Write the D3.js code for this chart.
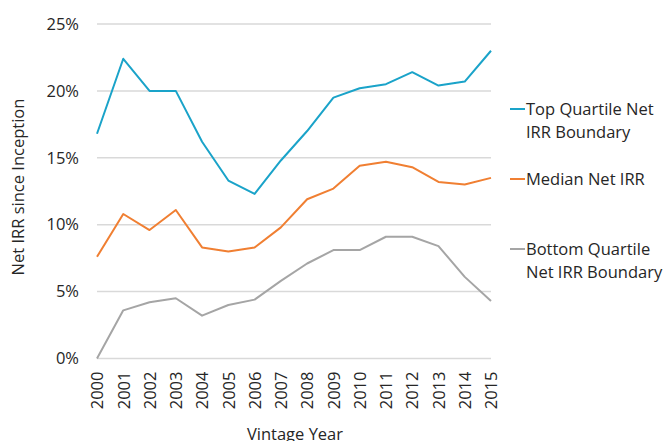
<!DOCTYPE html>
<html>
<head>
<meta charset="utf-8">
<script src="https://cdn.jsdelivr.net/npm/d3@7"></script>
<style>
body { margin: 0; background: #fff; }
text { font-family: "Open Sans", sans-serif; fill: #262626; }
</style>
</head>
<body>
<svg id="chart" width="670" height="441"></svg>
<script>
// vintage years and the three series (net IRR, %)
const years = ["2000","2001","2002","2003","2004","2005","2006","2007","2008","2009","2010","2011","2012","2013","2014","2015"];
const topQuartile = [16.8, 22.4, 20.0, 20.0, 16.2, 13.3, 12.3, 14.8, 17.0, 19.5, 20.2, 20.5, 21.4, 20.4, 20.7, 23.0];
const median = [7.6, 10.8, 9.6, 11.1, 8.3, 8.0, 8.3, 9.8, 11.9, 12.7, 14.4, 14.7, 14.3, 13.2, 13.0, 13.5];
const bottomQuartile = [0.0, 3.6, 4.2, 4.5, 3.2, 4.0, 4.4, 5.8, 7.1, 8.1, 8.1, 9.1, 9.1, 8.4, 6.1, 4.3];
const yTicks = [0, 5, 10, 15, 20, 25];

const series = [
  {name: ["Top Quartile Net", "IRR Boundary"], values: topQuartile, color: "#1aa3c9", ly: 109},
  {name: ["Median Net IRR"], values: median, color: "#f07f32", ly: 179},
  {name: ["Bottom Quartile", "Net IRR Boundary"], values: bottomQuartile, color: "#a5a5a5", ly: 249}
];

const svg = d3.select("#chart");
const plotLeft = 97, plotRight = 491, plotTop = 24, plotBottom = 358.5;
const fs = "16.5px";

let x = d3.scalePoint().domain(years).range([plotLeft, plotRight]);
let y = d3.scaleLinear().domain([0, 25]).range([plotBottom, plotTop]);

// gridlines
svg.append("g").selectAll("line")
  .data(yTicks)
  .join("line")
  .attr("x1", plotLeft).attr("x2", plotRight)
  .attr("y1", d => y(d)).attr("y2", d => y(d))
  .attr("stroke", "#d9d9d9")
  .attr("stroke-width", 1.5);

// y axis labels
let yAxis = svg.append("g")
  .attr("transform", `translate(${plotLeft - 18},0)`)
  .call(d3.axisLeft(y).tickValues(yTicks).tickSize(0).tickFormat(d => d + "%"));
yAxis.select(".domain").remove();
yAxis.selectAll("text")
  .attr("x", 0)
  .style("font-family", "'Open Sans', sans-serif")
  .style("font-size", fs)
  .attr("fill", "#262626");

// x axis labels (rotated)
let xAxis = svg.append("g")
  .attr("transform", `translate(0,${plotBottom})`)
  .call(d3.axisBottom(x).tickSize(0));
xAxis.select(".domain").remove();
xAxis.selectAll("text")
  .attr("transform", "rotate(-90)")
  .attr("x", -13)
  .attr("y", 0)
  .attr("dy", "0.35em")
  .style("text-anchor", "end")
  .style("font-family", "'Open Sans', sans-serif")
  .style("font-size", fs)
  .attr("fill", "#262626");

// axis titles
svg.append("text")
  .attr("transform", "translate(24,187) rotate(-90)")
  .attr("text-anchor", "middle")
  .style("font-size", fs)
  .text("Net IRR since Inception");

svg.append("text")
  .attr("x", 295)
  .attr("y", 440)
  .attr("text-anchor", "middle")
  .style("font-size", fs)
  .text("Vintage Year");

// lines
const line = d3.line()
  .x((d, i) => x(years[i]))
  .y(d => y(d));

svg.append("g").selectAll("path")
  .data(series)
  .join("path")
  .attr("d", d => line(d.values))
  .attr("fill", "none")
  .attr("stroke", d => d.color)
  .attr("stroke-width", 2)
  .attr("stroke-linejoin", "round");

// legend
let leg = svg.append("g").selectAll("g")
  .data(series)
  .join("g");

leg.append("line")
  .attr("x1", 510).attr("x2", 525)
  .attr("y1", d => d.ly).attr("y2", d => d.ly)
  .attr("stroke", d => d.color)
  .attr("stroke-width", 2);

leg.append("text")
  .attr("y", d => d.ly)
  .style("font-size", fs)
  .selectAll("tspan")
  .data(d => d.name)
  .join("tspan")
  .attr("x", 526)
  .attr("dy", (d, i) => i === 0 ? "0.35em" : "1.42em")
  .text(d => d);
</script>
</body>
</html>
